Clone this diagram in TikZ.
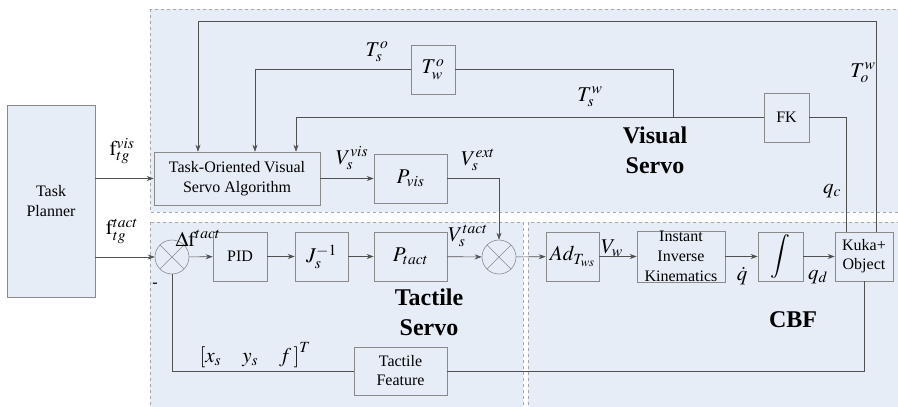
\documentclass[tikz,border=0pt]{standalone}
\usepackage{mathptmx}
\usepackage{fontspec}
\setmainfont{Liberation Serif}
\usetikzlibrary{arrows.meta}

\definecolor{panelblue}{HTML}{E7EDF7}
\definecolor{edgegray}{HTML}{A6A6A6}
\definecolor{boxgray}{HTML}{8A8A8A}
\definecolor{wiregray}{HTML}{505050}

\begin{document}
\begin{tikzpicture}[
    x=1pt, y=-1pt,
    >={Stealth[length=7pt,width=5pt]},
    every node/.style = {font=\fontsize{16}{20}\selectfont},
    blk/.style        = {draw=boxgray, fill=panelblue, align=center,
                         inner sep=0pt, line width=0.6pt},
    sumnode/.style    = {circle, draw=boxgray, fill=panelblue, minimum size=34pt,
                         inner sep=0pt, line width=0.6pt,
                         path picture={
                           \draw[boxgray, line width=0.6pt]
                             (path picture bounding box.north west) -- (path picture bounding box.south east)
                             (path picture bounding box.north east) -- (path picture bounding box.south west);}},
    panel/.style      = {draw=edgegray, dashed, fill=panelblue, line width=0.6pt},
    wire/.style       = {draw=wiregray, line width=0.6pt},
    lbl/.style        = {font=\fontsize{21}{23}\selectfont},
    title/.style      = {font=\fontsize{24}{30}\selectfont\bfseries, align=center}
    ]
    \useasboundingbox (0,0) rectangle (898,407);

    %--- panels ---
    \path[panel] (150,9) rectangle (905,212);
    \path[panel] (150,222) rectangle (523,415);
    \path[panel] (528,222) rectangle (905,415);

    %--- nodes ---
    \node[blk, minimum width=88pt, minimum height=192pt] (planner) at (51,201)
        {Task\\Planner};
    \node[blk, minimum width=166pt, minimum height=53pt] (tovsa) at (237,178.5)
        {Task-Oriented Visual\\Servo Algorithm};
    \node[blk, minimum width=73pt, minimum height=49pt, lbl] (pvis) at (410.5,178.5) {$P_{vis}$};
    \node[blk, minimum width=44pt, minimum height=49pt, lbl] (tw) at (433,69.5) {$T_w^o$};
    \node[blk, minimum width=45pt, minimum height=49pt] (fk) at (786.5,117.5) {FK};

    \node[sumnode] (sum1) at (172,257) {};
    \node[blk, minimum width=54pt, minimum height=49pt] (pid) at (240,256.5) {PID};
    \node[blk, minimum width=53pt, minimum height=49pt, lbl] (jinv) at (321.5,256.5) {$J_s^{-1}$};
    \node[blk, minimum width=73pt, minimum height=49pt, lbl] (ptact) at (410.5,256.5) {$P_{tact}$};
    \node[sumnode] (sum2) at (499,257) {};
    \node[blk, minimum width=53pt, minimum height=49pt, lbl] (ad) at (572.5,256.5) {$Ad_{T_{ws}}$};
    \node[blk, minimum width=88pt, minimum height=49pt] (iik) at (681,256.5)
        {Instant\\Inverse\\Kinematics};
    \node[blk, minimum width=45pt, minimum height=49pt, font=\fontsize{22}{24}\selectfont] (integ) at (780.5,256.5) {$\displaystyle\int$};
    \node[blk, minimum width=58pt, minimum height=49pt, font=\fontsize{16}{19}\selectfont] (kuka) at (864,256.5)
        {Kuka+\\Object};
    \node[blk, minimum width=93pt, minimum height=48pt, font=\fontsize{16}{19}\selectfont] (tf) at (400.5,371)
        {Tactile\\Feature};

    %--- forward path ---
    \draw[wire,->] (planner.east |- tovsa.west) -- (tovsa.west);
    \draw[wire,->] (tovsa) -- (pvis);
    \draw[wire,->] (pvis.east) -| (sum2.north);
    \draw[wire,->] (planner.east |- sum1.west) -- (sum1.west);
    \draw[wire,->] (sum1) -- (pid);
    \draw[wire,->] (pid) -- (jinv);
    \draw[wire,->] (jinv) -- (ptact);
    \draw[wire,->] (ptact) -- (sum2);
    \draw[wire,->] (sum2) -- (ad);
    \draw[wire,->] (ad) -- (iik);
    \draw[wire,->] (iik) -- (integ);
    \draw[wire,->] (integ) -- (kuka);

    %--- feedback ---
    \coordinate (topline) at (876,21);
    \coordinate (tap) at (673,117.5);
    \draw[wire,->] ([xshift=12pt]kuka.north) -- (topline) -| ([xshift=-39pt]tovsa.north);
    \draw[wire,->] (fk.west) -| ([xshift=59pt]tovsa.north);
    \draw[wire] (tap) |- (tw.east);
    \draw[wire,->] (tw.west) -| ([xshift=18pt]tovsa.north);
    \draw[wire] ([xshift=-18pt]kuka.north) |- (fk.east);
    \draw[wire] (kuka.south) |- (tf.east);
    \draw[wire] (tf.west) -| (sum1.south);

    %--- signal labels ---
    \node[lbl] (fvis)  at (122,151) {$\mathrm{f}_{tg}^{vis}$};
    \node[lbl] (ftact) at (122,231) {$\mathrm{f}_{tg}^{tact}$};
    \node[lbl] (vvis)  at (352,158) {$V_s^{vis}$};
    \node[lbl] (vext)  at (478,160) {$V_s^{ext}$};
    \node[lbl] (tso)   at (377,52)  {$T_s^o$};
    \node[lbl] (tsw)   at (590,97)  {$T_s^w$};
    \node[lbl] (tow)   at (863,73)  {$T_o^w$};
    \node[lbl] (qc)    at (832,191) {$q_c$};
    \node[lbl] (df)    at (198,238) {$\Delta\mathrm{f}^{tact}$};
    \node[lbl] (vtact) at (468,236) {$V_s^{tact}$};
    \node[lbl] (vw)    at (612,248) {$V_w$};
    \node[lbl] (qdot)  at (742,276) {$\dot{q}$};
    \node[lbl] (qd)    at (818,277) {$q_d$};
    \node (minus)      at (155,285) {-};
    \node[lbl] (feat)  at (255,355) {$\left[x_s\quad y_s\quad f\,\right]^T$};

    %--- block titles ---
    \node[title] (vstitle) at (655,150) {Visual\\Servo};
    \node[title] (tstitle) at (429,312) {Tactile\\Servo};
    \node[title] (cbftitle) at (793,320) {CBF};
\end{tikzpicture}
\end{document}
